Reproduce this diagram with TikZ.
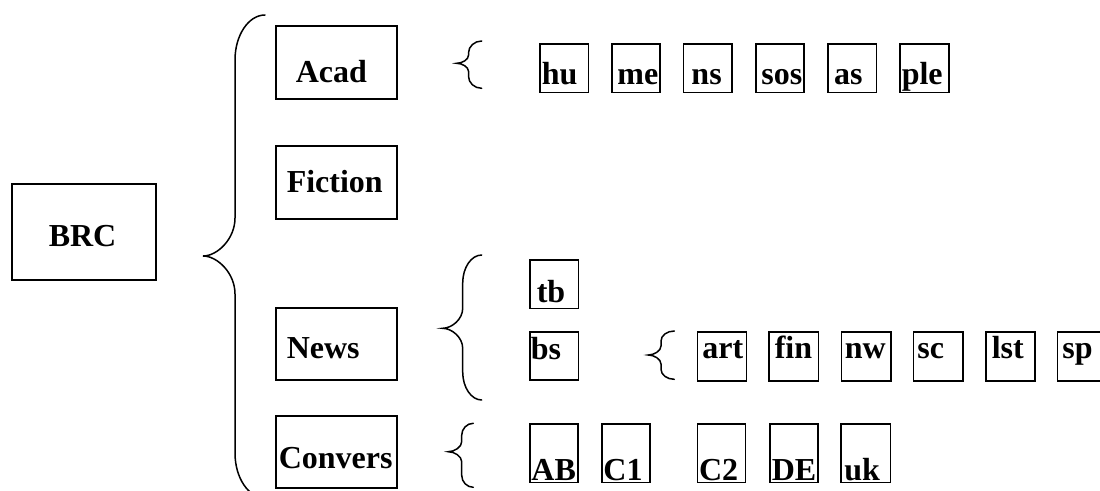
\documentclass[tikz,border=0pt]{standalone}
\usepackage{fontspec}
\setmainfont{Liberation Serif}
\begin{document}
\begin{tikzpicture}[x=1pt,y=-1pt,
  box/.style={draw, line width=1.5pt, rectangle, inner ysep=0pt, anchor=north west,
    align=left, font=\bfseries\fontsize{32}{38}\selectfont},
  bracestyle/.style={draw, line width=1.5pt, line cap=round}]
\useasboundingbox (0,0) rectangle (1100,490);
% box macro: name, left, top, right, bottom, baseline, textleft, text
\newcommand{\mkbox}[8]{%
  \pgfmathsetmacro{\mkboxtw}{#4-#2-2*(#7-#2)}%
  \pgfmathsetmacro{\mkboxpad}{#7-#2}%
  \pgfmathsetmacro{\mkboxth}{#6-#3}%
  \pgfmathsetmacro{\mkboxtd}{#5-#6}%
  \node[box, text width=\mkboxtw pt, inner xsep=\mkboxpad pt,
        text height=\mkboxth pt, text depth=\mkboxtd pt] (#1) at (#2,#3) {#8};}
% brace macro: end x, vertical x, tip x, top y, tip y, bottom y, corner extent, tip extent
\newcommand{\mkbrace}[8]{%
  \path[bracestyle] ({#1},{#4}) .. controls ({#2+0.45*(#1-#2)},{#4}) and ({#2},{#4+0.45*#7}) .. ({#2},{#4+#7})
   -- ({#2},{#5-#8}) .. controls ({#2},{#5-0.45*#8}) and ({#3+0.45*(#2-#3)},{#5}) .. ({#3},{#5})
   .. controls ({#3+0.45*(#2-#3)},{#5}) and ({#2},{#5+0.45*#8}) .. ({#2},{#5+#8})
   -- ({#2},{#6-#7}) .. controls ({#2},{#6-0.45*#7}) and ({#2+0.45*(#1-#2)},{#6}) .. ({#1},{#6});}

% main boxes
\mkbox{brc}{11}{183}{155}{279}{246}{48}{BRC}
\mkbox{acad}{275}{25}{396}{98}{82}{295}{Acad}
\mkbox{fiction}{275}{145}{396}{218}{192}{286}{Fiction}
\mkbox{news}{275}{307}{396}{379}{358}{286}{News}
\mkbox{convers}{275}{415}{396}{487}{468}{278}{Convers}

% big brace
\mkbrace{265}{235}{203}{15}{256}{498}{45}{38}

% Acad row
\mkbrace{481.7}{468.5}{456.7}{41}{63.3}{88.3}{12}{8}
\mkbox{hu}{539}{43.3}{587.5}{91.7}{83.3}{541}{hu}
\mkbox{me}{611}{43.3}{659.3}{91.7}{83.3}{616.7}{me}
\mkbox{ns}{682.7}{43.3}{731}{91.7}{83.3}{690.7}{ns}
\mkbox{sos}{755}{43.3}{803.3}{91.7}{83.3}{760.7}{sos}
\mkbox{as}{827.3}{43.3}{875.7}{91.7}{83.3}{833.3}{as}
\mkbox{ple}{899}{43.3}{948.3}{91.7}{83.3}{901}{ple}

% News rows
\mkbrace{481.7}{462.7}{442.7}{255}{328.3}{400}{28}{20}
\mkbox{tb}{529}{259.3}{577.7}{307.7}{301.7}{536}{tb}
\mkbox{bs}{529}{331}{577.7}{379.3}{358.3}{530}{bs}
\mkbrace{674.3}{661}{648.3}{331}{355}{379.3}{10}{9}
\mkbox{art}{696.7}{331}{745.7}{380}{358}{701.7}{art}
\mkbox{fin}{768.3}{331}{817.7}{380}{358}{774}{fin}
\mkbox{nw}{840.7}{331}{890}{380}{358}{844}{nw}
\mkbox{sc}{912.7}{331}{962}{380}{358}{916.7}{sc}
\mkbox{lst}{985}{331}{1034}{380}{358}{991}{lst}
\mkbox{sp}{1056.7}{331}{1115}{380}{358}{1061.7}{sp}

% Convers row
\mkbrace{473.3}{461.7}{448.3}{423.3}{451.7}{487.3}{12}{10}
\mkbox{ab}{529}{423}{577.3}{481.5}{479.5}{530.7}{AB}
\mkbox{c1}{601}{423}{649.3}{481.5}{479.5}{602.7}{C1}
\mkbox{c2}{696.7}{423}{744.7}{481.5}{479.5}{698.3}{C2}
\mkbox{de}{769}{423}{817.2}{481.5}{479.5}{771}{DE}
\mkbox{uk}{840.4}{423}{889.6}{481.5}{479.5}{843.6}{uk}
\end{tikzpicture}
\end{document}
